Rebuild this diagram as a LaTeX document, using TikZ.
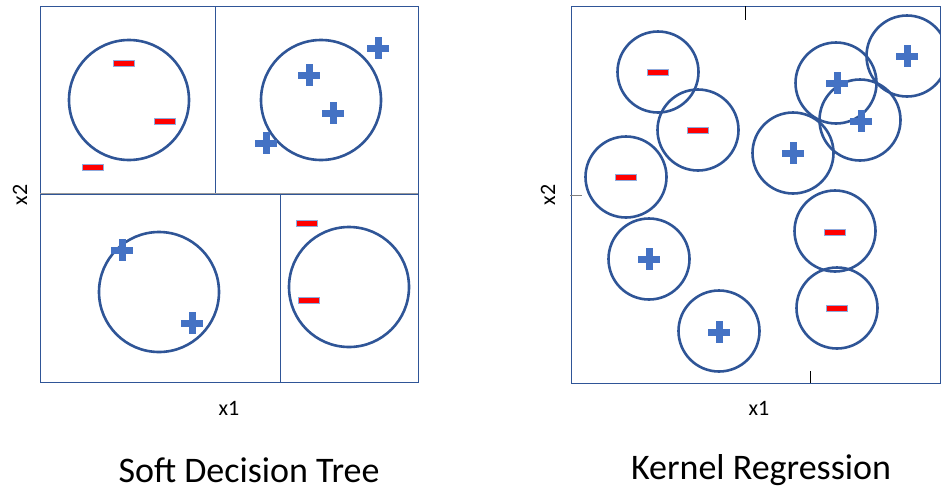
\documentclass[tikz,border=0pt]{standalone}
\usepackage{fontspec}
\setmainfont{Carlito}
\definecolor{boxc}{HTML}{2F5597}
\definecolor{ringc}{HTML}{2F5597}
\definecolor{plusc}{HTML}{4472C4}
\definecolor{minusc}{HTML}{FF0000}
\definecolor{minusedge}{HTML}{8FAADC}
\begin{document}
\begin{tikzpicture}[x=1pt,y=-1pt,
  cell/.style={draw=boxc,line width=0.9pt},
  ring/.style={circle,draw=ringc,line width=2.6pt,minimum size=#1,inner sep=0pt},
  ring/.default=120pt,
  kring/.style={ring=81pt},
  minusmark/.style={rectangle,fill=minusc,draw=minusedge,line width=0.5pt,minimum width=21pt,minimum height=6pt,inner sep=0pt},
  plusmark/.style={inner sep=0pt,minimum size=22pt,
    path picture={\fill[plusc] ([xshift=-11pt,yshift=-3.5pt]path picture bounding box.center) rectangle ([xshift=11pt,yshift=3.5pt]path picture bounding box.center);
    \fill[plusc] ([xshift=-3.5pt,yshift=-11pt]path picture bounding box.center) rectangle ([xshift=3.5pt,yshift=11pt]path picture bounding box.center);}},
  axlabel/.style={font=\fontsize{22}{24}\selectfont},
  title/.style={font=\fontsize{36}{40}\selectfont}]
\useasboundingbox (0,0) rectangle (941,493);
\fill[white] (0,0) rectangle (941,493);
% ---- Soft Decision Tree ----
\draw[cell] (40,6) rectangle (215,193);
\draw[cell] (215,6) rectangle (418,193);
\draw[gray!80,line width=2pt] (40,193.5) -- (418,193.5);
\draw[cell] (40,194) rectangle (280,382);
\draw[cell] (280,194) rectangle (418,382);
\node[ring] (c1) at (129,100) {};
\node[ring] (c2) at (321,100) {};
\node[ring] (c3) at (159,292) {};
\node[ring] (c4) at (349,287) {};
\node[minusmark] (m1) at (124,63) {};
\node[minusmark] (m2) at (165,121) {};
\node[minusmark] (m3) at (93,167) {};
\node[plusmark] (p1) at (378,48) {};
\node[plusmark] (p2) at (309,75) {};
\node[plusmark] (p3) at (333,113) {};
\node[plusmark] (p4) at (266,143) {};
\node[plusmark] (p5) at (122,250) {};
\node[plusmark] (p6) at (192,323) {};
\node[minusmark] (m4) at (307,223) {};
\node[minusmark] (m5) at (309,300) {};
\node[axlabel] (lx1) at (229,408) {x1};
\node[axlabel,rotate=90] (lx2) at (20,195) {x2};
\node[title] (t1) at (249,470) {Soft Decision Tree};
% ---- Kernel Regression ----
\draw[cell] (571,6) rectangle (940,383);
\draw[black,line width=0.8pt] (745,6) -- (745,20);
\draw[gray,line width=1pt] (570,195) -- (582,195);
\draw[black,line width=0.8pt] (810,371) -- (810,383);
\node[kring] (k1) at (658,72) {};
\node[kring] (k2) at (698,130) {};
\node[kring] (k3) at (626,177) {};
\node[kring] (k4) at (836,83) {};
\node[kring] (k5) at (907,56) {};
\node[kring] (k6) at (860,120) {};
\node[kring] (k7) at (793,153) {};
\node[kring] (k8) at (835,231) {};
\node[kring] (k9) at (837,308) {};
\node[kring] (k10) at (649,259) {};
\node[kring] (k11) at (719,331) {};
\node[minusmark] (km1) at (658,72) {};
\node[minusmark] (km2) at (698,130) {};
\node[minusmark] (km3) at (626,177) {};
\node[plusmark] (kp4) at (837,83) {};
\node[plusmark] (kp5) at (907,56) {};
\node[plusmark] (kp6) at (861,121) {};
\node[plusmark] (kp7) at (793,153) {};
\node[minusmark] (km8) at (835,232) {};
\node[minusmark] (km9) at (837,308) {};
\node[plusmark] (kp10) at (649,259) {};
\node[plusmark] (kp11) at (719,332) {};
\node[axlabel] (rx1) at (759,408) {x1};
\node[axlabel,rotate=90] (rx2) at (548,195) {x2};
\node[title] (t2) at (761,470) {Kernel Regression};
\end{tikzpicture}
\end{document}
